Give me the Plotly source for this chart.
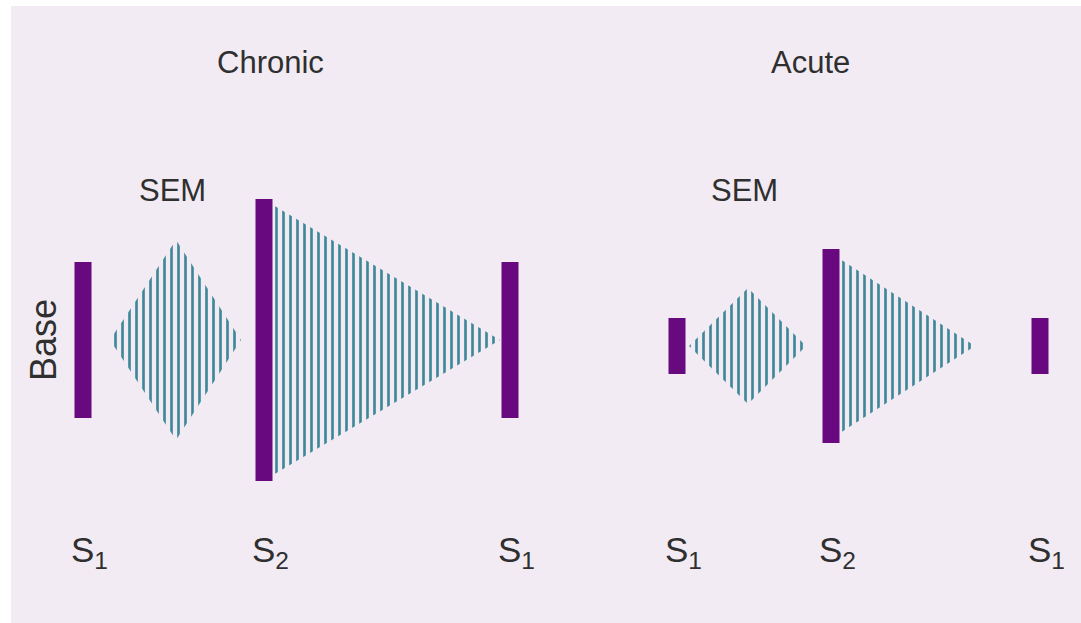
import plotly.graph_objects as go

# Heart sound timing diagram (x = time, y = amplitude about the baseline)
panels = ["Chronic", "Acute"]
panel_title_x = [270, 810]
panel_baseline = [0, -6]

# discrete heart sounds: time, half-height, label
sound_panel = [0, 0, 0, 1, 1, 1]
sound_time = [83, 264, 510, 677, 831, 1040]
sound_amp = [78, 141, 78, 28, 97, 28]
sound_name = ["S<sub>1</sub>", "S<sub>2</sub>", "S<sub>1</sub>",
              "S<sub>1</sub>", "S<sub>2</sub>", "S<sub>1</sub>"]

# systolic ejection murmur (crescendo-decrescendo): start, peak, end, peak amplitude
sem_start = [110, 689]
sem_peak = [176, 748]
sem_end = [241, 806]
sem_amp = [100, 58]

# diastolic decrescendo murmur after S2: start, end, starting amplitude
dm_start = [273, 840]
dm_end = [500, 975]
dm_amp = [135, 87]

purple = "#69097f"
teal = "#3f8798"
text_col = "#2f2f2f"
bg = "#f2ebf3"
font_main = "Liberation Sans, Arial, Helvetica, sans-serif"

fig = go.Figure()

hatch = dict(shape="|", size=7, solidity=0.38, fgcolor=teal, fgopacity=1,
             bgcolor="rgba(0,0,0,0)")

for i, p in enumerate(panels):
    b = panel_baseline[i]
    # SEM diamond
    fig.add_trace(go.Scatter(
        x=[sem_start[i], sem_peak[i], sem_end[i], sem_peak[i], sem_start[i]],
        y=[b, b + sem_amp[i], b, b - sem_amp[i], b],
        mode="lines", fill="toself", line=dict(width=0, color=teal),
        fillcolor="rgba(0,0,0,0)", fillpattern=hatch, hoverinfo="skip"))
    # diastolic decrescendo
    fig.add_trace(go.Scatter(
        x=[dm_start[i], dm_end[i], dm_start[i], dm_start[i]],
        y=[b + dm_amp[i], b, b - dm_amp[i], b + dm_amp[i]],
        mode="lines", fill="toself", line=dict(width=0, color=teal),
        fillcolor="rgba(0,0,0,0)", fillpattern=hatch, hoverinfo="skip"))

for t, a, pi in zip(sound_time, sound_amp, sound_panel):
    b = panel_baseline[pi]
    fig.add_trace(go.Scatter(
        x=[t, t], y=[b - a, b + a], mode="lines",
        line=dict(color=purple, width=17), hoverinfo="skip"))

annotations = []
for i, p in enumerate(panels):
    annotations.append(dict(x=panel_title_x[i], y=278, text=p, showarrow=False,
                            font=dict(size=31, color=text_col, family=font_main)))
    annotations.append(dict(x=sem_peak[i] - 4, y=150, text="SEM", showarrow=False,
                            font=dict(size=31, color=text_col, family=font_main)))
for t, name in zip(sound_time, sound_name):
    annotations.append(dict(x=t + 6, y=-212, text=name, showarrow=False,
                            font=dict(size=35, color=text_col, family=font_main)))
annotations.append(dict(x=43, y=0, text="Base", textangle=-90, showarrow=False,
                        font=dict(size=36, color=text_col, family=font_main)))

# thin white frame on the left and top edges of the image
frame = [
    dict(type="rect", xref="paper", yref="paper", x0=0, x1=11 / 1081, y0=0, y1=1,
         fillcolor="white", line=dict(width=0), layer="below"),
    dict(type="rect", xref="paper", yref="paper", x0=0, x1=1, y0=1 - 6 / 623, y1=1,
         fillcolor="white", line=dict(width=0), layer="below"),
]

fig.update_layout(
    width=1081, height=623,
    margin=dict(l=0, r=0, t=0, b=0),
    paper_bgcolor=bg, plot_bgcolor=bg,
    showlegend=False,
    annotations=annotations,
    shapes=frame,
    xaxis=dict(range=[0, 1081], visible=False, fixedrange=True),
    yaxis=dict(range=[-283, 340], visible=False, fixedrange=True),
)

# drop the page margin and scrollbars so the figure sits at the window origin
fig.write_html("out.html", config={"displayModeBar": False},
               post_script="document.body.style.margin='0';"
                           "document.body.style.background='" + bg + "';"
                           "document.body.style.overflow='hidden';"
                           "document.documentElement.style.overflow='hidden';")
